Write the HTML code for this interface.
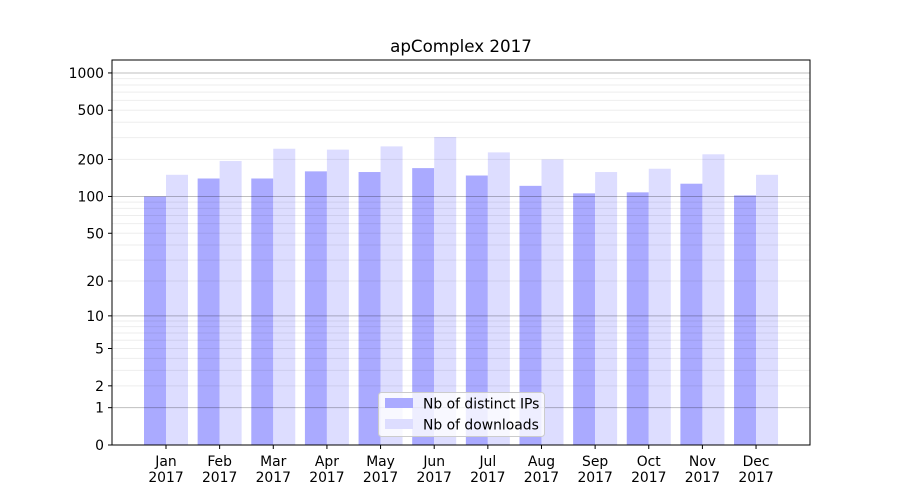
<!DOCTYPE html>
<html><head><meta charset="utf-8"><style>
body{margin:0;background:#fff;}
svg{display:block;font-family:"DejaVu Sans","Liberation Sans",sans-serif;}
</style></head><body>
<svg id="chart" width="900" height="500" viewBox="0 0 900 500">
<rect width="900" height="500" fill="#fff"/>
<text x="461" y="52" font-size="16.7" text-anchor="middle">apComplex 2017</text>
<g id="bars"></g><g id="grid"></g><g id="axes"></g>
<rect x="112" y="60" width="698" height="385" fill="none" stroke="#000" stroke-width="1"/>
<g>
<rect x="378.5" y="392.5" width="166" height="44" rx="3" fill="#fff" fill-opacity="0.8" stroke="#ccc"/>
<g><rect x="385" y="398" width="28" height="10" fill="#aaaaff"/><text x="423" y="408.5" font-size="13.9">Nb of distinct IPs</text></g>
<g><rect x="385" y="419" width="28" height="10" fill="#ddddff"/><text x="423" y="429.5" font-size="13.9">Nb of downloads</text></g>
</g>
</svg>
<script>
const months=["Jan","Feb","Mar","Apr","May","Jun","Jul","Aug","Sep","Oct","Nov","Dec"];
const distinctIPs=[100,140,140,160,158,170,148,122,106,108,127,102];
const downloads=[150,194,244,240,255,304,228,200,158,168,220,150];
const yTicks=[0,1,2,5,10,20,50,100,200,500,1000];
const NS="http://www.w3.org/2000/svg";
function y(v){return 445-124*Math.log10(v+1);}
function xc(i){return 166+i*53.64;}
function mk(tag,attrs,parent){const e=document.createElementNS(NS,tag);for(const k in attrs)e.setAttribute(k,attrs[k]);document.getElementById(parent).appendChild(e);return e;}
const bw=22;
distinctIPs.forEach((v,i)=>{const r=mk("rect",{x:xc(i)-bw,y:y(v),width:bw,height:445-y(v),fill:"#aaaaff"},"bars");

});
downloads.forEach((v,i)=>{const r=mk("rect",{x:xc(i),y:y(v),width:bw,height:445-y(v),fill:"#ddddff"},"bars");

});
for(const d of [1,10,100]){for(let m=2;m<10;m++){const v=m*d;const l=mk("line",{x1:112,x2:810,y1:y(v),y2:y(v),stroke:"#000","stroke-opacity":0.07,"stroke-width":1},"grid");

}}
for(const v of [1,10,100,1000]){const l=mk("line",{x1:112,x2:810,y1:y(v),y2:y(v),stroke:"#000","stroke-opacity":0.25,"stroke-width":1},"grid");

}
yTicks.forEach(v=>{mk("line",{x1:108,x2:112,y1:y(v),y2:y(v),stroke:"#000"},"axes");
const t=mk("text",{x:104,y:y(v)+5,"font-size":13.9,"text-anchor":"end"},"axes");t.textContent=v;

});
months.forEach((m,i)=>{mk("line",{x1:xc(i),x2:xc(i),y1:445,y2:449,stroke:"#000"},"axes");
const t=mk("text",{x:xc(i),y:466,"font-size":13.9,"text-anchor":"middle"},"axes");t.textContent=m;


const t2=mk("text",{x:xc(i),y:482,"font-size":13.9,"text-anchor":"middle"},"axes");t2.textContent="2017";

});
</script>
</body></html>
